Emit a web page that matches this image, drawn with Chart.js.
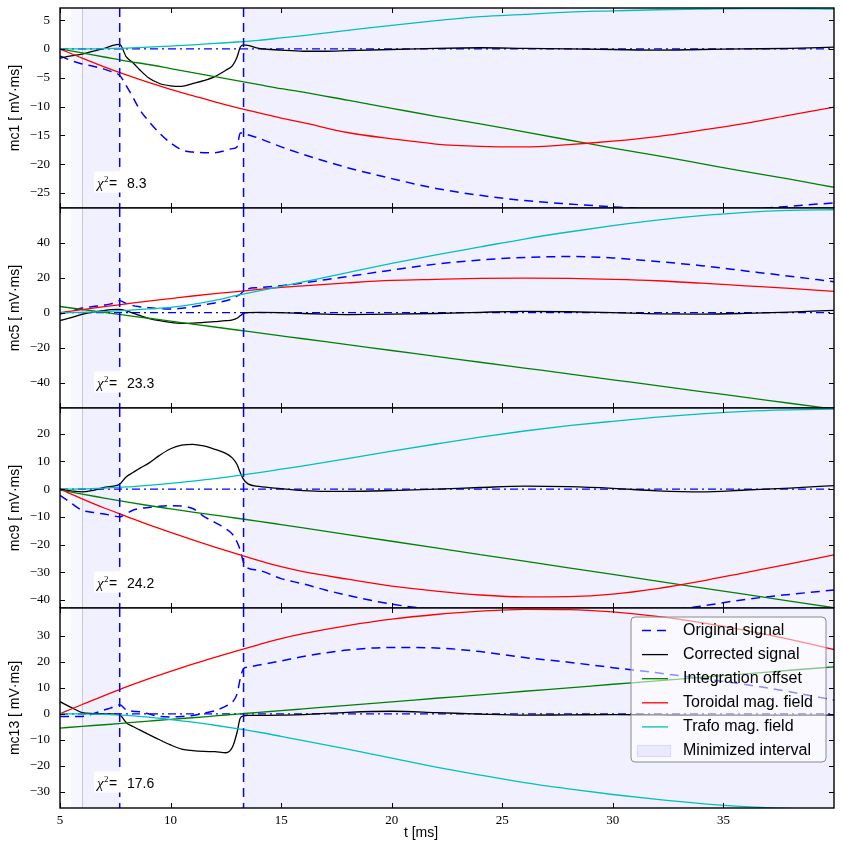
<!DOCTYPE html>
<html>
<head>
<meta charset="utf-8">
<script src="https://cdn.jsdelivr.net/npm/chart.js@4.4.1/dist/chart.umd.min.js"></script>
<style>
  html, body { margin: 0; padding: 0; background: #fff; }
  #fig { position: relative; width: 844px; height: 853px; overflow: hidden; }
  #fig canvas { position: absolute; left: 0; }
</style>
</head>
<body>
<div id="fig">
  <canvas id="p0" width="844" height="208" style="top:0px"></canvas>
  <canvas id="p1" width="844" height="208" style="top:200px"></canvas>
  <canvas id="p2" width="844" height="208" style="top:400px"></canvas>
  <canvas id="p3" width="844" height="253" style="top:600px"></canvas>
</div>
<script>
// time grids [ms]: dense one for the measured signals, coarse one for the smooth fit terms
const tSig = [5, 5.5, 6, 6.5, 7, 7.3, 7.7,  8, 8.3, 8.6,
  9, 9.5, 10, 10.5, 11, 11.5, 12, 12.5,  12.8, 13, 13.15, 13.3, 13.5, 14,
  15, 16, 17, 18,  20, 22, 24, 26, 28, 30, 32, 34, 36, 38, 40];
const tSm = [5, 6, 7, 8, 9, 10, 11, 12, 13, 14, 15, 16, 18, 20, 22, 24, 26, 28, 30, 32, 34, 36, 38, 40];

const channels = ['mc1', 'mc5', 'mc9', 'mc13'];
const chi2 = [8.3, 23.3, 24.2, 17.6];
const seriesNames = ['Original signal', 'Corrected signal', 'Integration offset', 'Toroidal mag. field', 'Trafo mag. field'];
const xTicks = [5, 10, 15, 20, 25, 30, 35];
const yTicks = [
  [-25, -20, -15, -10, -5, 0, 5],
  [-40, -20, 0, 20, 40],
  [-40, -30, -20, -10, 0, 10, 20],
  [-30, -20, -10, 0, 10, 20, 30]
];
const yLimits = [[-27.6, 7.1], [-54.4, 59.7], [-42.9, 29.3], [-36.3, 40.8]];
const cutTimes = [7.7, 13.3];
const minimizedIntervals = [[6.0, 7.7], [13.3, 40]];
const preInterval = [5.5, 6.0];

// mc1
const mc1Original = [-1.2, -2.0, -2.6, -3.0, -3.5, -3.9, -4.6,  -6.4, -8.4, -10.5,
  -12.5, -14.6, -16.3, -17.5, -17.9, -18.0, -18.0, -17.6,  -17.3, -17.0, -14.6, -14.6, -14.9, -15.5,
  -17.0, -18.3, -19.5, -20.6,  -22.5, -24.2, -25.4, -26.3, -26.9, -27.4, -27.8, -27.9, -27.8, -27.3, -26.7];
const mc1Corrected = [-1.6, -1.2, -0.9, -0.4, 0.1, 0.5, 0.8,  -1.4, -2.4, -3.6,
  -5.0, -6.0, -6.4, -6.5, -6.0, -5.5, -4.8, -3.7,  -2.9, -1.5, 0.3, 0.7, 0.6, 0.1,
  -0.2, -0.4, -0.4, -0.3,  -0.1, 0.1, 0.2, 0.1, 0.0, -0.1, -0.2, -0.1, 0.0, 0.1, 0.3];
const mc1Offset = [0, -0.7, -1.4, -2.1, -2.7, -3.4, -4.1, -4.8, -5.5, -6.2, -6.9, -7.5,
  -8.9, -10.3, -11.7, -13.0, -14.4, -15.8, -17.2, -18.5, -19.9, -21.3, -22.6, -24.0];
const mc1Toroidal = [0, -1.6, -3.1, -4.5, -5.8, -7.0, -8.1, -9.2, -10.2, -11.1, -12.0, -12.8,
  -14.5, -15.6, -16.5, -16.9, -17.0, -16.6, -16.0, -15.2, -14.1, -12.9, -11.5, -10.1];
const mc1Trafo = [0, 0, 0.05, 0.15, 0.3, 0.5, 0.7, 0.95, 1.2, 1.5, 1.9, 2.3,
  3.2, 4.1, 4.9, 5.6, 6.0, 6.4, 6.6, 6.8, 6.9, 7.0, 7.0, 6.9];

// mc5
const mc5Original = [-0.8, 1.0, 2.6, 3.5, 4.3, 5.0, 6.8,  5.2, 4.0, 3.4,
  2.8, 2.3, 2.1, 2.5, 3.3, 4.4, 5.5, 6.8,  8.0, 9.4, 10.5, 12.3, 13.6, 14.3,
  15.4, 17.0, 18.8, 20.6,  24.3, 27.7, 30.0, 31.5, 32.0, 31.2, 29.2, 26.8, 23.8, 20.8, 17.6];
const mc5Corrected = [-4.5, -2.8, -1.0, 0.3, 1.2, 1.7, 1.9,  1.0, -0.3, -1.6,
  -3.2, -4.6, -5.6, -6.1, -6.0, -5.6, -5.1, -4.6,  -4.1, -3.2, -1.8, -0.4, 0.0, 0.1,
  0.0, -0.5, -0.9, -1.1,  -0.9, -0.5, 0.2, 0.7, 0.5, 0.0, -0.7, -0.8, -0.4, 0.3, 1.3];
const mc5Offset = [3.5, 1.8, 0.2, -1.5, -3.2, -4.8, -6.5, -8.2, -9.9, -11.5, -13.2, -14.9,
  -18.2, -21.6, -24.9, -28.3, -31.6, -34.9, -38.3, -41.6, -45.0, -48.3, -51.7, -55.0];
const mc5Toroidal = [0, 1.7, 3.4, 5.0, 6.6, 8.0, 9.5, 10.8, 12.0, 13.3, 14.4, 15.3,
  17.0, 18.4, 19.0, 19.5, 19.7, 19.5, 19.0, 18.2, 16.8, 15.3, 13.8, 12.1];
const mc5Trafo = [0, 0.2, 0.6, 1.3, 2.1, 3.0, 4.7, 7.0, 9.8, 12.4, 15.0, 17.6,
  22.8, 28.1, 33.0, 37.5, 42.0, 46.0, 49.6, 52.8, 55.3, 57.2, 58.3, 58.7];

// mc9
const mc9Original = [-2.2, -5.0, -7.6, -8.4, -9.0, -9.4, -10.0,  -8.8, -7.6, -7.0,
  -6.6, -6.2, -6.0, -6.1, -7.0, -9.8, -12.0, -14.3,  -16.3, -19.0, -22.0, -26.5, -28.5, -29.3,
  -32.3, -34.2, -36.4, -38.3,  -41.5, -43.5, -44.6, -45.3, -45.5, -45.2, -44.2, -42.2, -39.8, -38.0, -36.4];
const mc9Corrected = [0.0, -0.6, -1.0, -0.4, 0.6, 1.0, 1.8,  4.5, 6.0, 7.5,
  9.3, 12.2, 14.6, 15.9, 16.2, 15.6, 14.4, 12.9,  11.2, 9.0, 6.0, 3.5, 1.9, 1.0,
  0.2, -0.5, -0.8, -0.8,  -0.5, 0.0, 0.6, 1.1, 0.9, 0.3, -0.6, -1.0, -0.3, 0.4, 1.3];
const mc9Offset = [-0.3, -1.8, -3.2, -4.6, -5.9, -7.1, -8.3, -9.4, -10.5, -11.6, -12.8, -14.0,
  -16.4, -18.8, -21.2, -23.6, -26.0, -28.4, -30.8, -33.2, -35.6, -38.0, -40.4, -42.8];
const mc9Toroidal = [0, -3.5, -6.8, -9.8, -12.8, -15.6, -18.3, -20.9, -23.4, -25.8, -28.0, -29.8,
  -32.5, -35.0, -36.8, -38.2, -38.9, -38.8, -37.9, -35.9, -33.2, -30.1, -27.0, -23.7];
const mc9Trafo = [0, 0.1, 0.4, 0.8, 1.4, 2.1, 2.9, 3.8, 4.9, 6.0, 7.2, 8.4,
  11.0, 13.7, 16.3, 18.8, 21.0, 22.9, 24.5, 26.0, 27.2, 28.1, 28.6, 28.9];

// mc13
const mc13Original = [-1.0, -1.0, -1.0, 0.0, 1.5, 2.3, 3.5,  1.5, 1.0, 0.8,
  0.0, -1.0, -1.2, -1.0, -0.6, 0.2, 1.2, 3.0,  4.6, 7.5, 13.5, 17.5, 18.0, 18.8,
  20.4, 22.1, 23.5, 24.6,  25.6, 25.4, 24.0, 21.7, 19.9, 17.8, 15.8, 13.6, 11.3, 8.5, 5.3];
const mc13Corrected = [4.7, 2.5, 0.5, 0.1, 0.0, 0.0, -0.4,  -3.4, -4.9, -6.2,
  -7.9, -10.0, -12.0, -13.6, -14.2, -14.5, -14.6, -15.0,  -12.8, -7.4, -1.7, -0.8, -0.6, -0.6,
  -0.5, -0.3, 0.2, 0.6,  1.0, 0.5, -0.1, -0.5, -0.4, -0.3, -0.4, -0.5, -0.5, -0.5, -0.5];
const mc13Offset = [-5.5, -4.8, -4.2, -3.5, -2.8, -2.1, -1.5, -0.8, -0.1, 0.6, 1.2, 1.9,
  3.3, 4.6, 6.0, 7.3, 8.7, 10.0, 11.4, 12.7, 14.1, 15.4, 16.8, 18.1];
const mc13Toroidal = [0, 3.6, 7.0, 10.4, 13.5, 16.4, 19.2, 21.8, 24.3, 26.7, 29.0, 30.9,
  34.0, 36.5, 38.3, 39.6, 40.3, 40.2, 39.3, 37.6, 35.2, 32.2, 28.7, 24.8];
const mc13Trafo = [0, 0, -0.2, -0.6, -1.3, -2.2, -3.2, -4.4, -5.7, -7.1, -8.7, -10.3,
  -13.6, -17.1, -20.5, -23.6, -26.5, -28.9, -31.1, -33.0, -34.6, -35.8, -36.5, -36.8];

const panels = [
  [mc1Original, mc1Corrected, mc1Offset, mc1Toroidal, mc1Trafo],
  [mc5Original, mc5Corrected, mc5Offset, mc5Toroidal, mc5Trafo],
  [mc9Original, mc9Corrected, mc9Offset, mc9Toroidal, mc9Trafo],
  [mc13Original, mc13Corrected, mc13Offset, mc13Toroidal, mc13Trafo]
];

const BLUE = '#0000ff';
const SPAN_FILL = 'rgba(0,0,255,0.06)';
const SERIF = '"Liberation Serif", "DejaVu Serif", serif';
const SANS = '"Liberation Sans", Arial, sans-serif';

function pts(ts, vs) {
  return ts.map((t, i) => ({ x: t, y: vs[i] }));
}

function fmtTick(v) {
  return v < 0 ? '\u2212' + Math.abs(v) : String(v);
}

function roundRect(ctx, x, y, w, h, r) {
  ctx.beginPath();
  ctx.moveTo(x + r, y);
  ctx.arcTo(x + w, y, x + w, y + h, r);
  ctx.arcTo(x + w, y + h, x, y + h, r);
  ctx.arcTo(x, y + h, x, y, r);
  ctx.arcTo(x, y, x + w, y, r);
  ctx.closePath();
}

// spans, cut lines, frame, inside ticks, chi^2 box, legend
function makeDecor(p, last) {
  return {
    id: 'decor' + p,
    beforeDatasetsDraw(chart) {
      const { ctx, chartArea: a, scales: { x } } = chart;
      ctx.save();
      ctx.beginPath();
      ctx.rect(a.left, a.top, a.width, a.height);
      ctx.clip();
      ctx.fillStyle = 'rgba(0,0,255,0.03)';
      ctx.fillRect(x.getPixelForValue(preInterval[0]), a.top,
        x.getPixelForValue(preInterval[1]) - x.getPixelForValue(preInterval[0]), a.height);
      ctx.fillStyle = SPAN_FILL;
      minimizedIntervals.forEach(([t0, t1]) => {
        const x0 = x.getPixelForValue(t0), x1 = x.getPixelForValue(t1);
        ctx.fillRect(x0, a.top, x1 - x0, a.height);
      });
      ctx.strokeStyle = 'rgba(120,120,150,0.35)';
      ctx.lineWidth = 1;
      const xe = Math.round(x.getPixelForValue(preInterval[1])) + 0.5;
      ctx.beginPath(); ctx.moveTo(xe, a.top); ctx.lineTo(xe, a.bottom); ctx.stroke();
      ctx.restore();
    },
    afterDatasetsDraw(chart) {
      const { ctx, chartArea: a, scales: { x, y } } = chart;
      ctx.save();
      // dashed boundaries of the cut-out interval
      ctx.strokeStyle = BLUE;
      ctx.lineWidth = 1.5;
      ctx.setLineDash([9, 6]);
      cutTimes.forEach(t => {
        const px = x.getPixelForValue(t);
        ctx.beginPath(); ctx.moveTo(px, a.top); ctx.lineTo(px, a.bottom); ctx.stroke();
      });
      ctx.setLineDash([]);

      // frame and inward ticks
      ctx.strokeStyle = '#000';
      ctx.lineWidth = 1;
      ctx.beginPath();
      yTicks[p].forEach(v => {
        const py = Math.round(y.getPixelForValue(v)) + 0.5;
        ctx.moveTo(a.left, py); ctx.lineTo(a.left + 5, py);
        ctx.moveTo(a.right, py); ctx.lineTo(a.right - 5, py);
      });
      xTicks.forEach(v => {
        const px = Math.round(x.getPixelForValue(v)) + 0.5;
        ctx.moveTo(px, a.top); ctx.lineTo(px, a.top + 5);
        ctx.moveTo(px, a.bottom); ctx.lineTo(px, a.bottom - 5);
      });
      ctx.stroke();
      ctx.lineWidth = 1.4;
      ctx.strokeRect(a.left, a.top, a.width, a.height);

      // chi^2 annotation
      const base = a.top + 179.5;
      const val = chi2[p].toFixed(1);
      ctx.font = '14px ' + SANS;
      const vw = ctx.measureText(val).width;
      ctx.fillStyle = '#fff';
      ctx.fillRect(94, a.top + 163.5, 127 + vw + 3 - 94, 21);
      ctx.fillStyle = '#000';
      ctx.textBaseline = 'alphabetic';
      ctx.textAlign = 'left';
      ctx.font = 'italic 15px ' + SERIF;
      ctx.fillText('\u03c7', 97, base);
      ctx.font = '9px ' + SERIF;
      ctx.fillText('2', 104, base - 6);
      ctx.font = '14px ' + SANS;
      ctx.fillText('=', 109, base);
      ctx.fillText(val, 127, base);

      if (last) {
        // legend box in the upper right corner
        const lx = a.right - 203, ly = a.top + 9, lw = 195, lh = 145;
        roundRect(ctx, lx, ly, lw, lh, 4);
        ctx.fillStyle = 'rgba(255,255,255,0.55)';
        ctx.fill();
        ctx.strokeStyle = '#8a8a8a';
        ctx.lineWidth = 1;
        ctx.stroke();
        ctx.font = '16px ' + SANS;
        ctx.textBaseline = 'middle';
        const ds = chart.data.datasets;
        for (let k = 0; k < 5; k++) {
          const ry = ly + 13.5 + 24.1 * k;
          ctx.strokeStyle = ds[k].borderColor;
          ctx.lineWidth = ds[k].borderWidth;
          ctx.setLineDash(ds[k].borderDash || []);
          ctx.beginPath(); ctx.moveTo(lx + 11, ry); ctx.lineTo(lx + 37, ry); ctx.stroke();
          ctx.setLineDash([]);
          ctx.fillStyle = '#000';
          ctx.fillText(ds[k].label, lx + 52, ry);
        }
        const ry = ly + 13.5 + 24.1 * 5;
        ctx.fillStyle = SPAN_FILL;
        ctx.fillRect(lx + 6, ry - 6, 34, 12);
        ctx.strokeStyle = 'rgba(0,0,255,0.07)';
        ctx.strokeRect(lx + 6.5, ry - 5.5, 33, 11);
        ctx.fillStyle = '#000';
        ctx.fillText('Minimized interval', lx + 52, ry);

        // x axis label
        ctx.font = '14px ' + SANS;
        ctx.textAlign = 'center';
        ctx.fillText('t [ms]', 421, a.bottom + 25);
      }
      ctx.restore();
    }
  };
}

const colors = [BLUE, '#000000', '#008000', '#ff0000', '#00bfbf'];

panels.forEach((series, p) => {
  const last = p === panels.length - 1;
  const datasets = series.map((vals, k) => ({
    label: seriesNames[k],
    data: pts(k < 2 ? tSig : tSm, vals),
    borderColor: colors[k],
    borderWidth: k === 0 ? 1.5 : 1.3,
    borderDash: k === 0 ? [9, 6] : [],
    order: 5 - k
  }));
  datasets.push({
    label: 'zero',
    data: pts([5, 40], [0, 0]),
    borderColor: BLUE,
    borderWidth: 1.3,
    borderDash: [8, 4, 2, 4],
    order: 7
  });

  new Chart(document.getElementById('p' + p), {
    type: 'line',
    data: { datasets: datasets },
    plugins: [makeDecor(p, last)],
    options: {
      animation: false,
      responsive: false,
      devicePixelRatio: 1,
      layout: { padding: { top: 8, right: 10, left: 0, bottom: 0 } },
      elements: {
        point: { radius: 0 },
        line: { cubicInterpolationMode: 'monotone', fill: false }
      },
      plugins: { legend: { display: false }, tooltip: { enabled: false } },
      scales: {
        x: {
          type: 'linear',
          min: 5,
          max: 40,
          display: last,
          afterBuildTicks: s => { s.ticks = xTicks.map(v => ({ value: v })); },
          afterFit: s => {
            s.height = last ? 45 : 0;
            s.paddingLeft = 0;
            s.paddingRight = 0;
          },
          grid: { display: false, drawTicks: false },
          border: { display: false },
          ticks: {
            padding: 5,
            autoSkip: false,
            maxRotation: 0,
            color: '#000',
            font: { family: SERIF, size: 13 }
          }
        },
        y: {
          type: 'linear',
          min: yLimits[p][0],
          max: yLimits[p][1],
          afterBuildTicks: s => { s.ticks = yTicks[p].map(v => ({ value: v })); },
          afterFit: s => {
            s.width = 60;
            s.paddingTop = 0;
            s.paddingBottom = 0;
          },
          grid: { display: false, drawTicks: false },
          border: { display: false },
          ticks: {
            padding: 10,
            color: '#000',
            font: { family: SERIF, size: 13 },
            callback: v => fmtTick(v)
          },
          title: {
            display: true,
            text: channels[p] + ' [ mV\u00b7ms]',
            color: '#000',
            font: { family: SANS, size: 14 },
            padding: { top: 7, bottom: 0 }
          }
        }
      }
    }
  });
});
</script>
</body>
</html>
